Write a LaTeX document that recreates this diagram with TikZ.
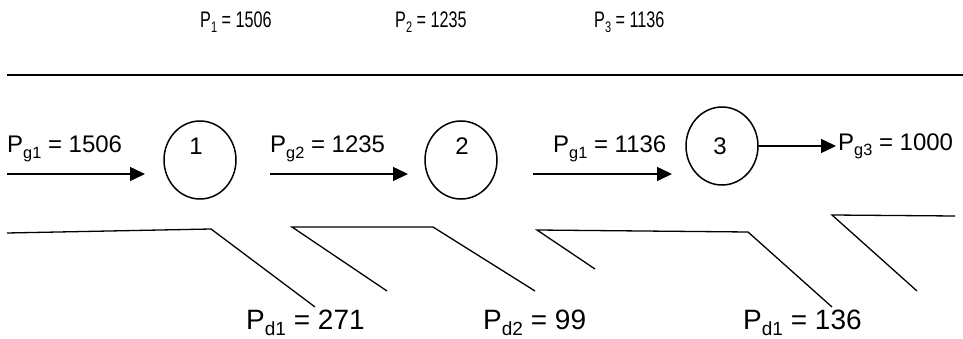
\documentclass[tikz,border=0pt]{standalone}
\usepackage{fontspec}
\setmainfont{Liberation Sans}
\newfontfamily\narrowfont[FakeStretch=0.72]{Liberation Sans}
\usetikzlibrary{arrows.meta,shapes.geometric}
\newcommand\lowsub[1]{\raisebox{-0.22em}{\scalebox{0.68}{#1}}}
\begin{document}
\begin{tikzpicture}[x=1pt,y=-1pt,
  toplab/.style={anchor=base west,inner sep=0pt,font=\narrowfont\fontsize{22.5}{22.5}\selectfont},
  midlab/.style={anchor=base west,inner sep=0pt,font=\fontsize{24}{24}\selectfont},
  botlab/.style={anchor=base west,inner sep=0pt,font=\fontsize{28}{28}\selectfont},
  bus/.style={ellipse,draw,line width=1.5pt,inner sep=0pt},
  numlab/.style={inner sep=0pt,font=\fontsize{24}{24}\selectfont},
  arr/.style={line width=1.5pt,-{Triangle[length=15pt,width=14pt]}},
  ln/.style={line width=1.3pt,line join=miter}]
\useasboundingbox (0,0) rectangle (963,339);
% top
\node[toplab] (p1) at (200,28) {P\lowsub{1} = 1506};
\node[toplab] (p2) at (395,28) {P\lowsub{2} = 1235};
\node[toplab] (p3) at (594,28) {P\lowsub{3} = 1136};
\draw[line width=2pt] (7,75) -- (963,75);
% buses
\node[bus,minimum width=72pt,minimum height=78pt] (c1) at (200,160) {};
\node[bus,minimum width=72pt,minimum height=78pt] (c2) at (461,160) {};
\node[bus,minimum width=72pt,minimum height=78pt] (c3) at (722,146) {};
\node[numlab] (n1) at (196,146) {1};
\node[numlab] (n2) at (462,146) {2};
\node[numlab] (n3) at (720,146) {3};
% labels
\node[midlab] (g1) at (7,153) {P\lowsub{g1} = 1506};
\node[midlab] (g2) at (270,153) {P\lowsub{g2} = 1235};
\node[midlab] (g3) at (553,153) {P\lowsub{g1} = 1136};
\node[midlab,anchor=west,inner sep=2pt] (g4) at (836,146) {P\lowsub{g3} = 1000};
% arrows
\coordinate (a1s) at (7,174);  \coordinate (a1e) at (145,174);
\coordinate (a2s) at (270,174); \coordinate (a2e) at (408,174);
\coordinate (a3s) at (533,174); \coordinate (a3e) at (672,174);
\draw[arr] (a1s) -- (a1e);
\draw[arr] (a2s) -- (a2e);
\draw[arr] (a3s) -- (a3e);
\draw[arr] (c3.east) -- (g4.west);
% loads
\draw[ln] (7,233) -- (211,229) -- (315,307);
\draw[ln] (387,291) -- (292,227) -- (433,227) -- (535,291);
\draw[ln] (595,269) -- (537,230) -- (748,232) -- (832,307);
\draw[ln] (917,291) -- (832,215) -- (955,216);
\node[botlab] (d1) at (246,329) {P\lowsub{d1} = 271};
\node[botlab] (d2) at (483,329) {P\lowsub{d2} = 99};
\node[botlab] (d3) at (743,329) {P\lowsub{d1} = 136};
\end{tikzpicture}
\end{document}
